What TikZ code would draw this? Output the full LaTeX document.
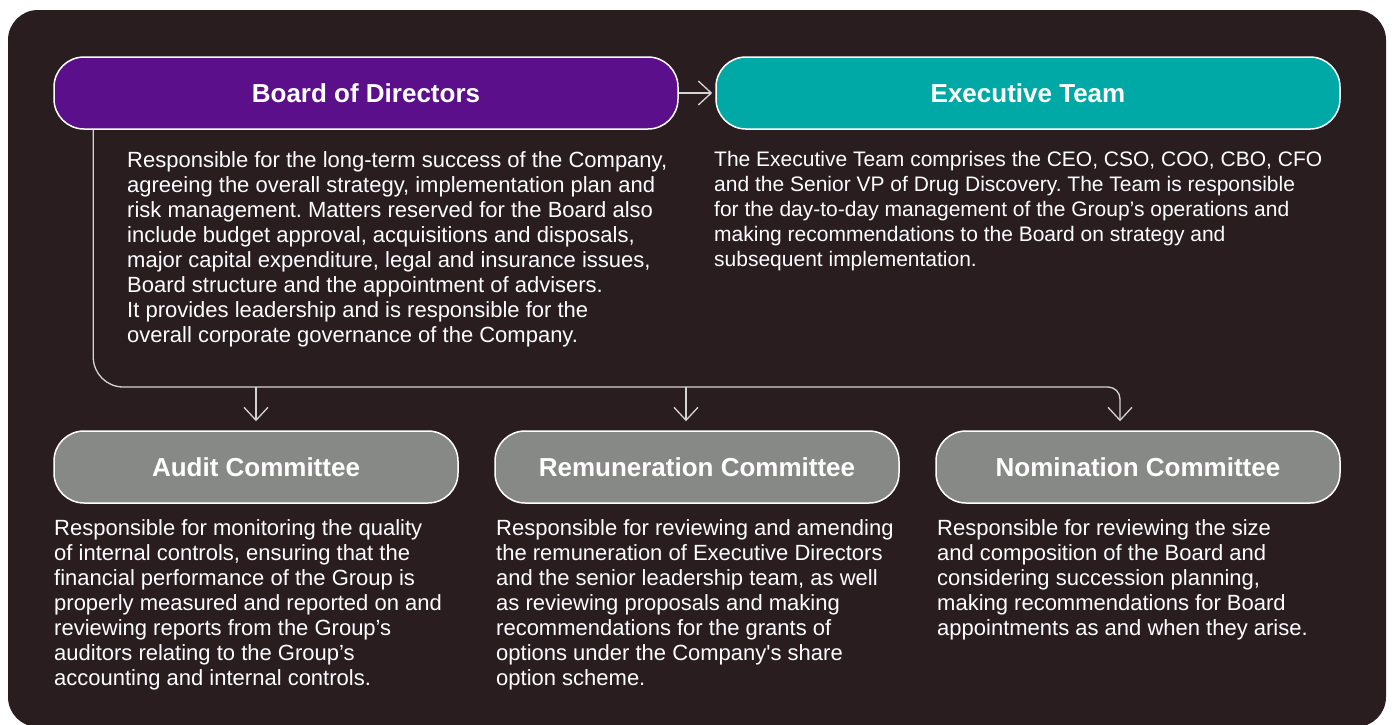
\documentclass[tikz,border=0pt]{standalone}
\usepackage{fontspec}
\setmainfont{Liberation Sans}
\usetikzlibrary{arrows.meta}
\definecolor{panel}{HTML}{2A1D20}
\definecolor{boardpurple}{HTML}{5B0F8A}
\definecolor{execteal}{HTML}{00A9A5}
\definecolor{cmtgray}{HTML}{878987}
\definecolor{wiregray}{HTML}{D4D4D4}
\frenchspacing
\begin{document}
\begin{tikzpicture}[x=1pt,y=-1pt,
  headbox/.style={draw=white, line width=1.5pt, rounded corners=30pt,
    minimum width=624pt, minimum height=72pt, inner sep=0pt, text=white,
    font=\fontsize{26}{30}\selectfont\bfseries},
  cmtbox/.style={headbox, fill=cmtgray, minimum width=404pt},
  body/.style={anchor=north west, inner sep=0pt, align=left, text=white,
    font=\fontsize{22}{25}\selectfont\frenchspacing},
  wire/.style={draw=wiregray, line width=1.3pt},
  tip/.style={-{Straight Barb[length=13pt,width=24pt]}}
]
\useasboundingbox (0,0) rectangle (1393,724);
\fill[white] (0,0) rectangle (1393,724);
\fill[panel, rounded corners=30pt] (8,10) rectangle (1386,727);

% top row
\node[headbox, fill=boardpurple] (board) at (366,93) {Board of Directors};
\node[headbox, fill=execteal] (exec) at (1028,93) {Executive Team};

% committees
\node[cmtbox] (audit) at (256,467) {Audit Committee};
\node[cmtbox] (remun) at (697,467) {Remuneration Committee};
\node[cmtbox] (nomin) at (1138,467) {Nomination Committee};

% descriptions
\node[body] (boardtxt) at (127,151.5) {Responsible for the long-term success of the Company,\\
agreeing the overall strategy, implementation plan and\\
risk management. Matters reserved for the Board also\\
include budget approval, acquisitions and disposals,\\
major capital expenditure, legal and insurance issues,\\
Board structure and the appointment of advisers.\\
It provides leadership and is responsible for the\\
overall corporate governance of the Company.};

\node[body, font=\fontsize{21}{25}\selectfont\frenchspacing] (exectxt) at (714,151.5) {The Executive Team comprises the CEO, CSO, COO, CBO, CFO\\
and the Senior VP of Drug Discovery. The Team is responsible\\
for the day-to-day management of the Group’s operations and\\
making recommendations to the Board on strategy and\\
subsequent implementation.};

\node[body] (audittxt) at (54,519.3) {Responsible for monitoring the quality\\
of internal controls, ensuring that the\\
financial performance of the Group is\\
properly measured and reported on and\\
reviewing reports from the Group’s\\
auditors relating to the Group’s\\
accounting and internal controls.};

\node[body] (remuntxt) at (496,519.3) {Responsible for reviewing and amending\\
the remuneration of Executive Directors\\
and the senior leadership team, as well\\
as reviewing proposals and making\\
recommendations for the grants of\\
options under the Company\textquotesingle s share\\
option scheme.};

\node[body] (nomintxt) at (937,519.3) {Responsible for reviewing the size\\
and composition of the Board and\\
considering succession planning,\\
making recommendations for Board\\
appointments as and when they arise.};

% connectors
\coordinate (busL) at ([xshift=40pt]board.south west);
\coordinate (busY) at (0,387);

\draw[wire, tip, shorten >=3pt] (board) -- (exec);

\draw[wire, tip, shorten >=9pt] (busL) [rounded corners=30pt] -- (busL |- busY)
  [rounded corners=12pt] -- ([xshift=-18pt]nomin.north |- busY) -- ([xshift=-18pt]nomin.north);
\draw[wire, tip, shorten >=9pt] (audit.north |- busY) -- (audit.north);
\draw[wire, tip, shorten >=9pt] ([xshift=-11pt]remun.north |- busY) -- ([xshift=-11pt]remun.north);
\end{tikzpicture}
\end{document}
